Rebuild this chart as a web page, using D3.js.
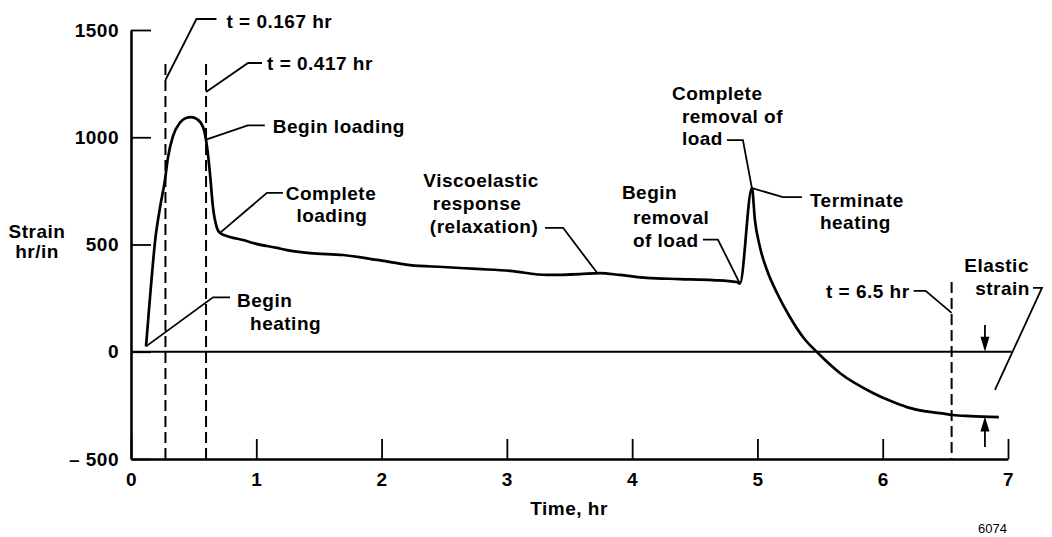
<!DOCTYPE html>
<html>
<head>
<meta charset="utf-8">
<script src="https://cdn.jsdelivr.net/npm/d3@7"></script>
<style>
  html, body { margin: 0; padding: 0; background: #fff; }
  svg { display: block; }
  .lbl { font-family: "Liberation Sans", Arial, Helvetica, sans-serif; font-weight: bold; font-size: 19px; letter-spacing: 0.5px; fill: #000; }
</style>
</head>
<body>
<svg id="chart" width="1052" height="537"></svg>
<script>
// ---------------- data ----------------
const times  = [0.120, 0.144, 0.168, 0.192, 0.231, 0.271, 0.295, 0.335, 0.391, 0.439, 0.479, 0.527, 0.575, 0.607, 0.630, 0.654, 0.686, 0.710,
                0.790, 0.894, 0.974, 1.165, 1.245, 1.429, 1.692, 1.963, 2.227, 2.490, 2.761, 3.025, 3.320, 3.583, 3.743, 3.903, 4.118, 4.381, 4.645, 4.836, 4.860,
                4.956, 4.980, 5.020, 5.076, 5.156, 5.259, 5.363, 5.483, 5.658, 5.922, 6.060, 6.193, 6.330, 6.456, 6.560, 6.700, 6.927];
const strain = [25, 200, 365, 515, 670, 800, 905, 1005, 1068, 1090, 1094, 1085, 1048, 955, 833, 675, 577, 554,
                535, 521, 507, 484, 474, 460, 451, 428, 404, 395, 386, 377, 358, 362, 367, 358, 344, 339, 334, 325, 318,
                763, 614, 488, 381, 274, 162, 69, -6, -99, -192, -229, -258, -277, -286, -295, -300, -305];

const xTicks = [0, 1, 2, 3, 4, 5, 6, 7];
const yTicks = [-500, 0, 500, 1000, 1500];

// dashed time markers (t, top of line in strain units)
const markerTimes = [0.275, 0.599, 6.55];
const markerTops  = [1341, 1341, 325];

// zero reference line extent
const zeroLineEnd = 7.03;

// annotation anchors (t, strain) and their text
const annotTimes  = [0.275, 0.599, 0.605, 0.710, 0.120, 3.720, 4.860, 4.956, 4.956, 6.550, 6.896];
const annotValues = [1267, 1211, 990, 554, 25, 368, 318, 763, 763, 181, -178];
const annotTexts  = [
  ["t = 0.167 hr"],
  ["t = 0.417 hr"],
  ["Begin loading"],
  ["Complete", "loading"],
  ["Begin", "heating"],
  ["Viscoelastic", "response", "(relaxation)"],
  ["Begin", "removal", "of load"],
  ["Complete", "removal of", "load"],
  ["Terminate", "heating"],
  ["t = 6.5 hr"],
  ["Elastic", "strain"]
];

// elastic strain arrows (t, from, to)
const arrowTime = 6.816;
const arrowFrom = [125, -444];
const arrowTo   = [0, -302];

const xLabel = "Time, hr";
const yLabel = ["Strain", "hr/in"];
const figNumber = "6074";

// ---------------- layout (pixel offsets / styles) ----------------
const annotLayout = [
  { path: [[0,0],[31,-61],[51,-61]], anchor: "start", text: [[61,-52]] },
  { path: [[0,0],[42,-29],[56,-29]], anchor: "start", text: [[61,-22]] },
  { path: [[0,0],[41,-14],[58,-14]], anchor: "start", text: [[66,-6]] },
  { path: [[0,0],[47,-40],[63,-40]], anchor: "middle", text: [[111,-33],[112,-11]] },
  { path: [[0,0],[67,-49],[84,-49]], anchor: "start", text: [[91,-39],[104,-16]] },
  { path: [[0,0],[-34,-45],[-52,-45]], anchor: "middle", text: [[-116,-86],[-120,-63],[-113,-40]] },
  { path: [[0,0],[-22,-44],[-37,-44]], anchor: "start", text: [[-118,-85],[-107,-60],[-107,-37]] },
  { path: [[0,0],[-9,-48],[-25,-48]], anchor: "start", text: [[-80,-88],[-70,-65],[-70,-43]] },
  { path: [[0,0],[31,9],[50,9]], anchor: "start", text: [[58,19],[68,41]] },
  { path: [[0,0],[-26,-22],[-38,-22]], anchor: "end", text: [[-42,-15]] },
  { path: [[0,0],[47,-102],[38,-102]], anchor: "end", text: [[34,-118],[35,-95]] }
];

// ---------------- drawing ----------------
const svg = d3.select("#chart");
const x = d3.scaleLinear().domain([0, 7]).range([131, 1008]);
const y = d3.scaleLinear().domain([-500, 1500]).range([459, 30]);

// axes
const yAxis = svg.append("g").attr("transform", "translate(131,0)")
  .call(d3.axisLeft(y).tickValues(yTicks).tickSize(-20).tickSizeOuter(0).tickPadding(12)
    .tickFormat(d => d < 0 ? "\u2013 " + Math.abs(d) : String(d)));
const xAxis = svg.append("g").attr("transform", "translate(0,459)")
  .call(d3.axisBottom(x).tickValues(xTicks).tickSize(-20).tickSizeOuter(0).tickPadding(14)
    .tickFormat(d3.format("d")));

[yAxis, xAxis].forEach(g => {
  g.attr("font-family", null).attr("font-size", null);
  g.select(".domain").attr("stroke", "#000").attr("stroke-width", 2.6);
  g.selectAll(".tick line").attr("stroke", "#000").attr("stroke-width", 1.8);
  g.selectAll(".tick text").attr("class", "lbl").attr("fill", "#000");
});

// zero line
svg.append("line")
  .attr("x1", x(0)).attr("x2", x(zeroLineEnd))
  .attr("y1", y(0)).attr("y2", y(0))
  .attr("stroke", "#000").attr("stroke-width", 2.2);

// dashed markers
svg.append("g").selectAll("line").data(markerTimes).join("line")
  .attr("x1", d => x(d)).attr("x2", d => x(d))
  .attr("y1", (d, i) => y(markerTops[i])).attr("y2", y(-500))
  .attr("stroke", "#000").attr("stroke-width", 2)
  .attr("stroke-dasharray", "11,5");

// strain curve
const pts = times.map((t, i) => [t, strain[i]]);
svg.append("path").datum(pts)
  .attr("d", d3.line().x(d => x(d[0])).y(d => y(d[1])).curve(d3.curveMonotoneX))
  .attr("fill", "none").attr("stroke", "#000").attr("stroke-width", 2.7)
  .attr("stroke-linejoin", "round");

// annotations
annotTimes.forEach((t, i) => {
  const ax = x(t), ay = y(annotValues[i]);
  const L = annotLayout[i];
  svg.append("path")
    .attr("d", d3.line()(L.path.map(p => [ax + p[0], ay + p[1]])))
    .attr("fill", "none").attr("stroke", "#000").attr("stroke-width", 1.8);
  annotTexts[i].forEach((s, j) => {
    svg.append("text").attr("class", "lbl")
      .attr("x", ax + L.text[j][0]).attr("y", ay + L.text[j][1])
      .attr("text-anchor", L.anchor).text(s);
  });
});

// elastic strain arrows
const ax = x(arrowTime);
arrowFrom.forEach((f, i) => {
  const y1 = y(f), y2 = y(arrowTo[i]);
  const dir = y2 > y1 ? 1 : -1;
  svg.append("line").attr("x1", ax).attr("x2", ax).attr("y1", y1).attr("y2", y2 - dir * 10)
    .attr("stroke", "#000").attr("stroke-width", 1.8);
  svg.append("path")
    .attr("d", `M${ax},${y2} L${ax - 4.5},${y2 - dir * 15} L${ax + 4.5},${y2 - dir * 15} Z`)
    .attr("fill", "#000");
});

// axis titles
svg.append("text").attr("class", "lbl").attr("x", 569).attr("y", 515)
  .attr("text-anchor", "middle").text(xLabel);
yLabel.forEach((s, j) => {
  svg.append("text").attr("class", "lbl").attr("x", 37).attr("y", 238 + j * 20)
    .attr("text-anchor", "middle").text(s);
});
svg.append("text").attr("x", 978).attr("y", 533)
  .attr("font-family", "'Liberation Sans', Arial, sans-serif").attr("font-size", 13)
  .text(figNumber);
</script>
</body>
</html>
